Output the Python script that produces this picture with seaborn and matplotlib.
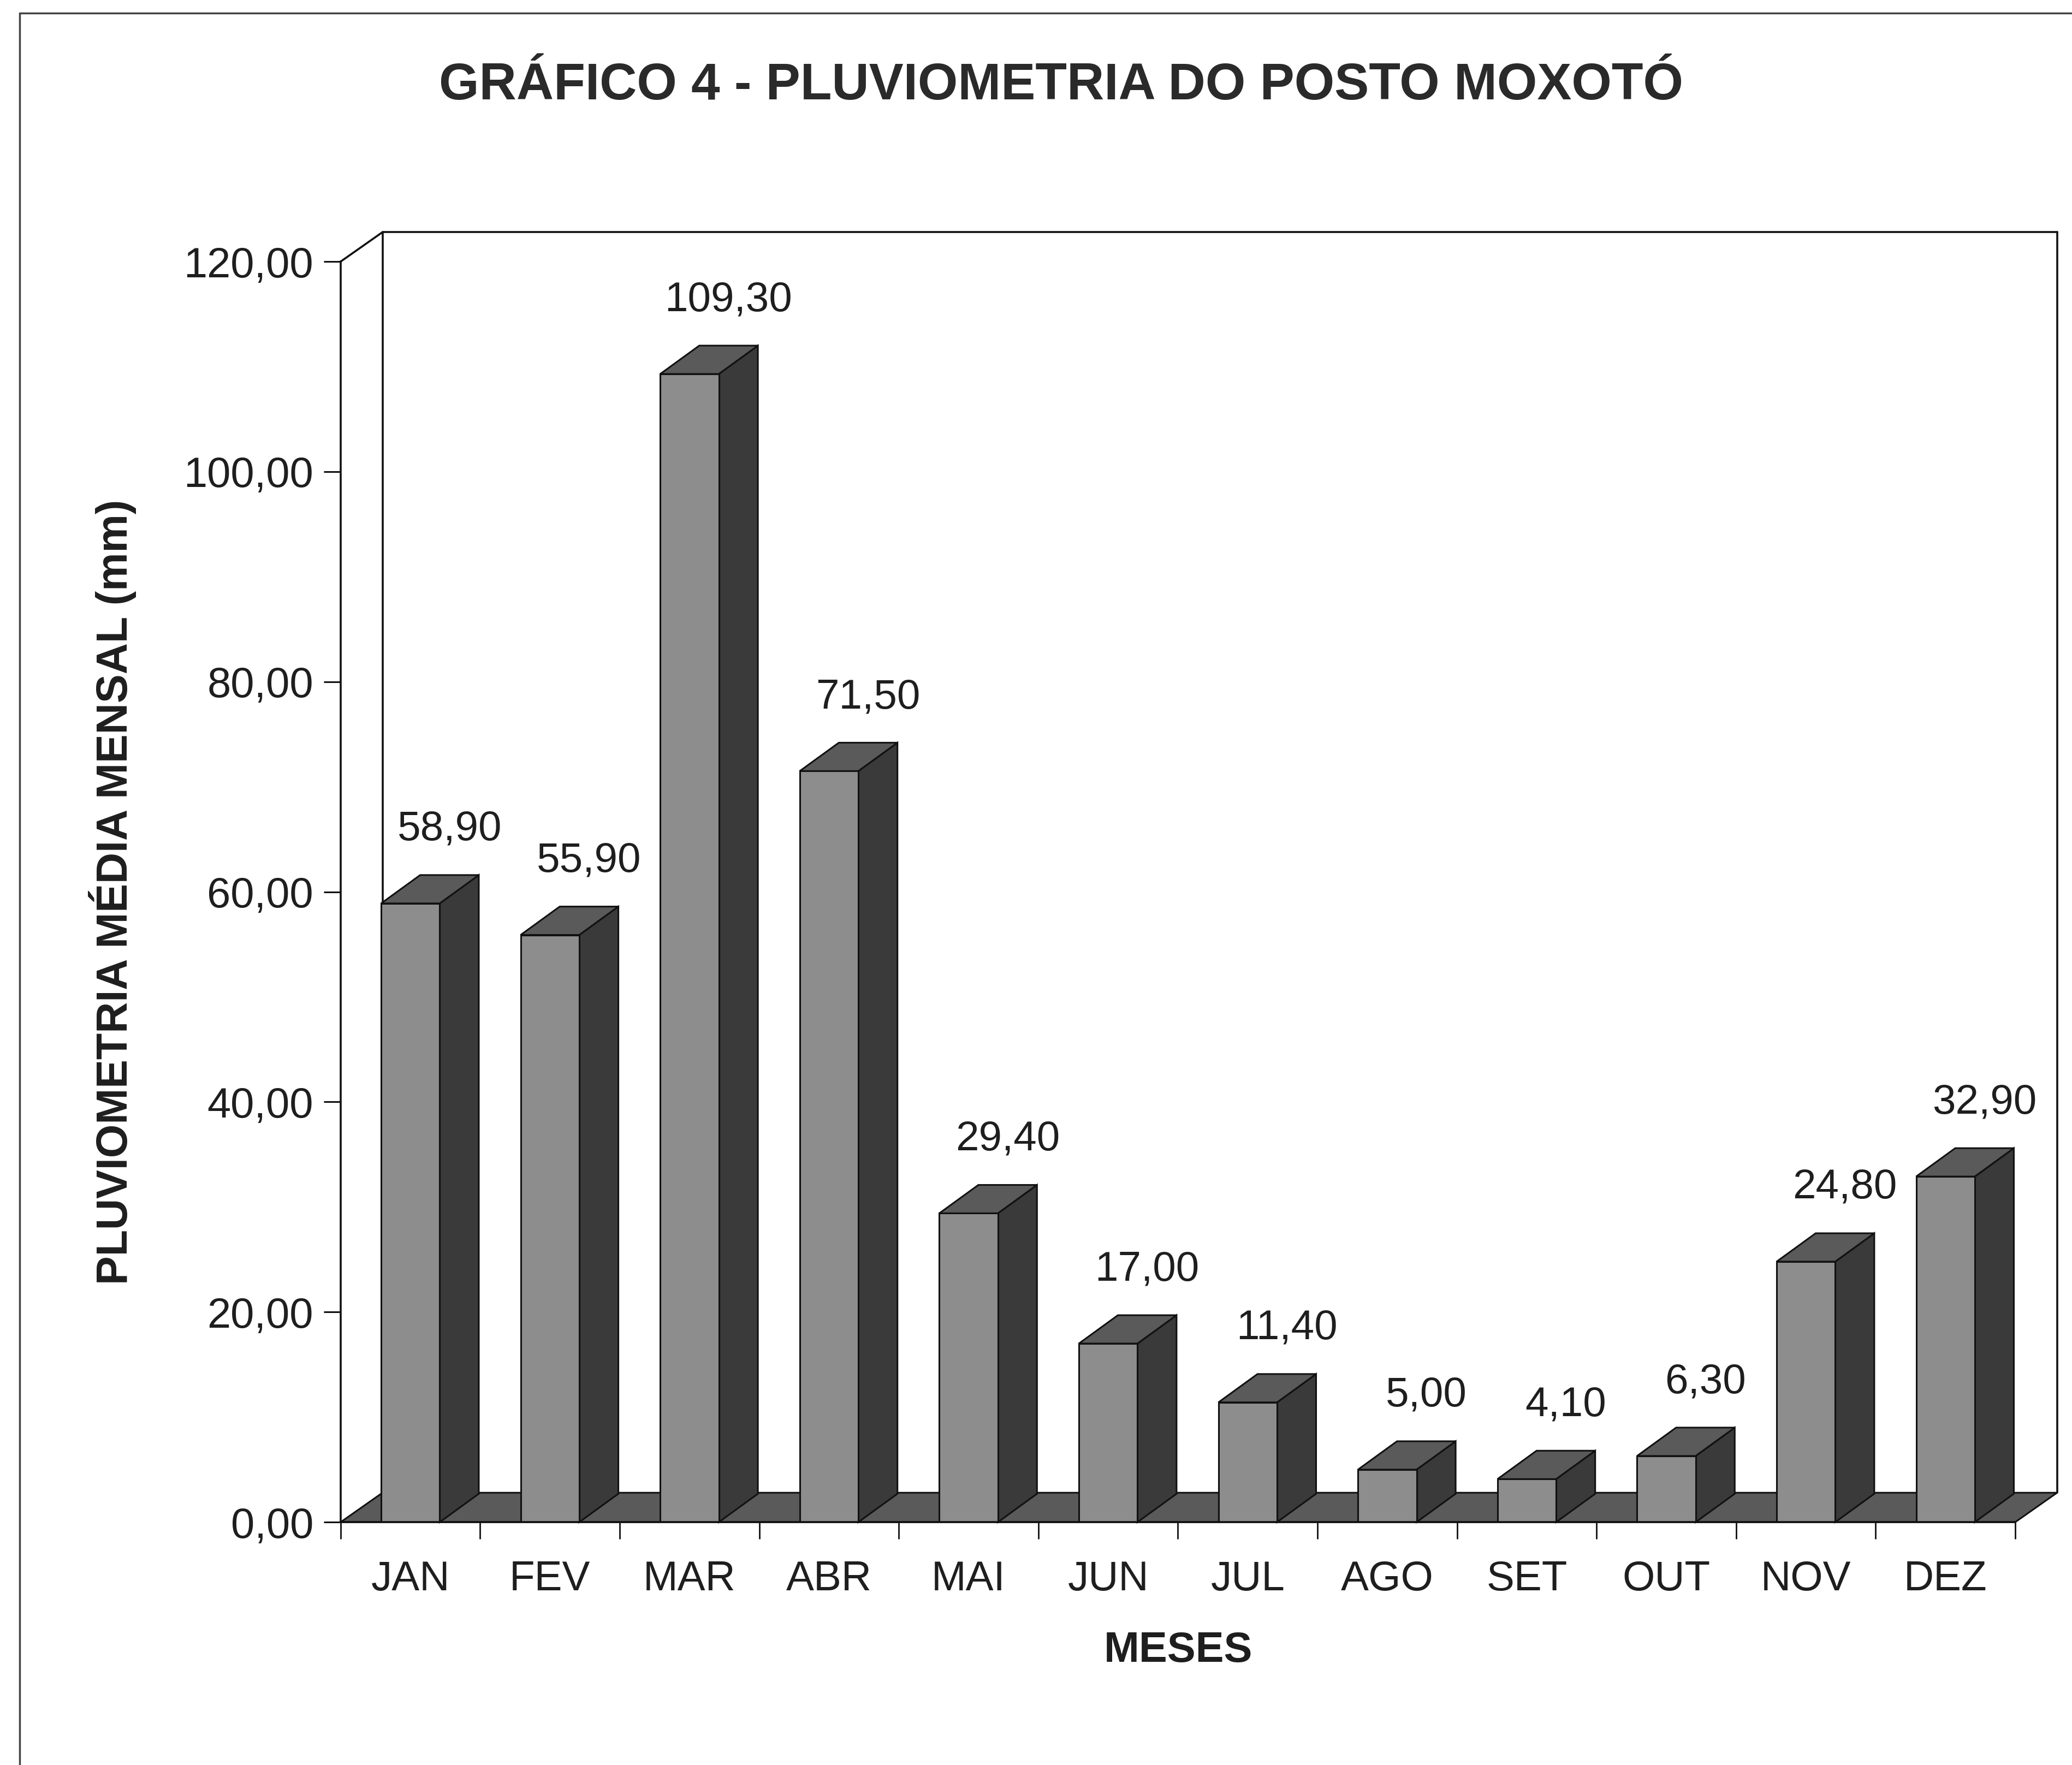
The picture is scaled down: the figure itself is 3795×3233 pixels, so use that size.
import numpy as np
import pandas as pd
import seaborn as sns
import matplotlib
matplotlib.use("Agg")
import matplotlib.pyplot as plt
from matplotlib.patches import Polygon
from matplotlib.lines import Line2D

# ---- data ----
meses = ["JAN", "FEV", "MAR", "ABR", "MAI", "JUN", "JUL", "AGO", "SET", "OUT", "NOV", "DEZ"]
pluviometria = [58.90, 55.90, 109.30, 71.50, 29.40, 17.00, 11.40, 5.00, 4.10, 6.30, 24.80, 32.90]
y_ticks = [0, 20, 40, 60, 80, 100, 120]

titulo = "GRÁFICO 4 - PLUVIOMETRIA DO POSTO MOXOTÓ"
rotulo_x = "MESES"
rotulo_y = "PLUVIOMETRIA MÉDIA MENSAL (mm)"

df = pd.DataFrame({"mes": meses, "valor": pluviometria})

sns.set_theme(style="white")
plt.rcParams["font.family"] = ["Liberation Sans", "DejaVu Sans"]

FRONT = "#8d8d8d"
SIDE = "#3a3a3a"
TOP = "#5a5a5a"
FLOOR = "#5a5a5a"
EDGE = "#111111"
TXT = "#1e1e1e"

DX, DY = 0.28, 2.7  # depth offset in data units

fig = plt.figure(figsize=(37.95, 32.33), dpi=100)
fig.patch.set_facecolor("white")
ax = fig.add_axes([0.1644, 0.1376, 0.8082, 0.7142])
ax.set_facecolor("none")

sns.barplot(data=df, x="mes", y="valor", color=FRONT, width=0.42,
            edgecolor=EDGE, linewidth=2.2, saturation=1, ax=ax, zorder=4)

ax.set_xlim(-0.5, 11.5)
ax.set_ylim(0, 120)

# back wall and floor
x0, x1 = -0.5, 11.5
WDX, WDY = 0.30, 2.8
wall_kw = dict(color=EDGE, lw=2.6, clip_on=False, zorder=1)
ax.add_line(Line2D([x0 + WDX, x1 + WDX], [120 + WDY, 120 + WDY], **wall_kw))
ax.add_line(Line2D([x0 + WDX, x0 + WDX], [WDY, 120 + WDY], **wall_kw))
ax.add_line(Line2D([x1 + WDX, x1 + WDX], [WDY, 120 + WDY], **wall_kw))
ax.add_line(Line2D([x0, x0 + WDX], [120, 120 + WDY], **wall_kw))
floor = Polygon([(x0, 0), (x1, 0), (x1 + WDX, WDY), (x0 + WDX, WDY)], closed=True,
                facecolor=FLOOR, edgecolor=EDGE, lw=2.2, clip_on=False, zorder=2)
ax.add_patch(floor)

# 3D faces of bars
for p, v in zip(ax.patches, pluviometria):
    bx, bw, bh = p.get_x(), p.get_width(), p.get_height()
    side = Polygon([(bx + bw, 0), (bx + bw + DX, DY), (bx + bw + DX, bh + DY), (bx + bw, bh)],
                   closed=True, facecolor=SIDE, edgecolor=EDGE, lw=2.2, clip_on=False, zorder=3)
    top = Polygon([(bx, bh), (bx + DX, bh + DY), (bx + bw + DX, bh + DY), (bx + bw, bh)],
                  closed=True, facecolor=TOP, edgecolor=EDGE, lw=2.2, clip_on=False, zorder=5)
    ax.add_patch(side)
    ax.add_patch(top)
    ax.text(bx + bw / 2 + DX, bh + DY + 4.3, f"{v:.2f}".replace(".", ","),
            ha="center", va="center", fontsize=55, color=TXT, zorder=6)

# spines / ticks
for s in ["top", "right"]:
    ax.spines[s].set_visible(False)
for s in ["left", "bottom"]:
    ax.spines[s].set_color(EDGE)
    ax.spines[s].set_linewidth(2.6)
    ax.spines[s].set_zorder(6)

ax.set_yticks(y_ticks)
ax.set_yticklabels([f"{t:.2f}".replace(".", ",") for t in y_ticks])
ax.tick_params(axis="y", which="major", left=True, length=22, width=2.2, color=EDGE,
               pad=14, labelsize=56, labelcolor=TXT)

ax.set_xticks(range(len(meses)))
ax.set_xticklabels(meses)
ax.set_xticks(np.arange(-0.5, 12, 1), minor=True)
ax.tick_params(axis="x", which="major", bottom=False, length=0, pad=50,
               labelsize=55, labelcolor=TXT)
ax.tick_params(axis="x", which="minor", bottom=True, length=22, width=2.0, color=EDGE)

ax.set_xlabel(rotulo_x, fontsize=56, fontweight="bold", color=TXT, labelpad=42)
ax.set_ylabel(rotulo_y, fontsize=57, fontweight="bold", color=TXT, labelpad=62)

fig.text(0.512, 0.9514, titulo, ha="center", va="center", fontsize=68,
         fontweight="bold", color="#2a2a2a")

# page frame (top and left)
fig.add_artist(Line2D([36 / 3795, 1.0], [1 - 24 / 3233, 1 - 24 / 3233],
                      transform=fig.transFigure, color="#444444", lw=2.5))
fig.add_artist(Line2D([36 / 3795, 36 / 3795], [0.0, 1 - 24 / 3233],
                      transform=fig.transFigure, color="#444444", lw=2.5))

fig.savefig("out.png", dpi=100, facecolor="white")
